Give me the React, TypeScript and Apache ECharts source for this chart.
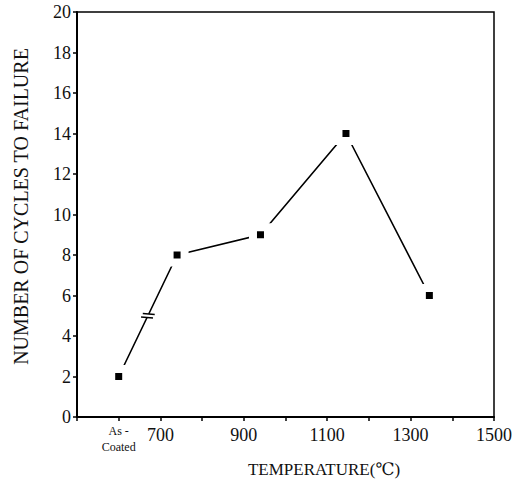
import React, { useEffect, useRef } from "react";
import * as echarts from "echarts";

const temperatures = [600, 740, 940, 1145, 1345];
const cycles = [2, 8, 9, 14, 6];
const labeledTicks = [700, 900, 1100, 1300, 1500];
const asCoatedTick = 600;
const asCoatedLabel = ["As -", "Coated"];
const xName = "TEMPERATURE(\u2103)";
const yName = "NUMBER OF CYCLES TO FAILURE";

const FONT = "'Liberation Serif', 'DejaVu Serif', serif";

export default function App() {
  const ref = useRef<HTMLDivElement>(null);
  useEffect(() => {
    if (!ref.current) return;
    const chart = echarts.init(ref.current, undefined, { renderer: "svg" });
    const points = temperatures.map((t, i) => [t, cycles[i]]);
    const breakSeg = [[temperatures[0], cycles[0], temperatures[1], cycles[1]]];
    chart.setOption({
      animation: false,
      backgroundColor: "#fff",
      grid: {
        left: 77,
        right: 34,
        top: 12,
        bottom: 68,
        show: true,
        borderColor: "#000",
        borderWidth: 1.5,
        backgroundColor: "transparent",
      },
      xAxis: {
        type: "value",
        min: 500,
        max: 1500,
        interval: 100,
        name: xName,
        nameLocation: "middle",
        nameGap: 44,
        nameTextStyle: {
          fontFamily: FONT,
          fontSize: 17,
          color: "#111",
          padding: [0, 0, 0, 77],
        },
        axisLine: { lineStyle: { color: "#000", width: 2 } },
        axisTick: { show: true, length: 4, lineStyle: { color: "#000", width: 1.5 } },
        splitLine: { show: false },
        axisLabel: {
          margin: 6,
          showMinLabel: true,
          showMaxLabel: true,
          formatter: (v: number) => {
            if (v === asCoatedTick) return asCoatedLabel.map((s) => "{a|" + s + "}").join("\n");
            if (labeledTicks.includes(v)) return "{n|" + v + "}";
            return "";
          },
          rich: {
            a: { fontFamily: FONT, fontSize: 12, color: "#111", lineHeight: 16 },
            n: { fontFamily: FONT, fontSize: 18, color: "#111", lineHeight: 24 },
          },
        },
      },
      yAxis: {
        type: "value",
        min: 0,
        max: 20,
        interval: 2,
        name: yName,
        nameLocation: "middle",
        nameGap: 46,
        nameTextStyle: {
          fontFamily: FONT,
          fontSize: 20,
          color: "#111",
          padding: [0, 0, 0, 16],
        },
        axisLine: { show: true, lineStyle: { color: "#000", width: 2 } },
        axisTick: { show: true, length: 4, lineStyle: { color: "#000", width: 1.5 } },
        splitLine: { show: false },
        axisLabel: {
          margin: 6,
          fontFamily: FONT,
          fontSize: 18,
          color: "#111",
        },
      },
      series: [
        {
          type: "line",
          data: points,
          symbol: "rect",
          symbolSize: 15,
          lineStyle: { color: "#000", width: 1.6 },
          itemStyle: { color: "#000", borderColor: "#fff", borderWidth: 8 },
          z: 2,
        },
        {
          type: "custom",
          data: breakSeg,
          z: 5,
          silent: true,
          renderItem: (params: any, api: any) => {
            const p1 = api.coord([api.value(0), api.value(1)]);
            const p2 = api.coord([api.value(2), api.value(3)]);
            const mx = (p1[0] + p2[0]) / 2;
            const my = (p1[1] + p2[1]) / 2;
            const dx = p2[0] - p1[0];
            const dy = p2[1] - p1[1];
            const len = Math.sqrt(dx * dx + dy * dy);
            const ux = dx / len;
            const uy = dy / len;
            const ang = Math.PI / 2.6;
            const vx = ux * Math.cos(ang) - uy * Math.sin(ang);
            const vy = ux * Math.sin(ang) + uy * Math.cos(ang);
            const h = 6;
            const g = 2;
            return {
              type: "group",
              children: [
                {
                  type: "line",
                  shape: { x1: mx - ux * g, y1: my - uy * g, x2: mx + ux * g, y2: my + uy * g },
                  style: { stroke: "#fff", lineWidth: 4 },
                },
                {
                  type: "line",
                  shape: {
                    x1: mx - ux * g - vx * h,
                    y1: my - uy * g - vy * h,
                    x2: mx - ux * g + vx * h,
                    y2: my - uy * g + vy * h,
                  },
                  style: { stroke: "#000", lineWidth: 1.4 },
                },
                {
                  type: "line",
                  shape: {
                    x1: mx + ux * g - vx * h,
                    y1: my + uy * g - vy * h,
                    x2: mx + ux * g + vx * h,
                    y2: my + uy * g + vy * h,
                  },
                  style: { stroke: "#000", lineWidth: 1.4 },
                },
              ],
            };
          },
        },
      ],
    });
    return () => chart.dispose();
  }, []);
  return <div ref={ref} style={{ width: 528, height: 485, position: "absolute", left: 0, top: 0 }} />;
}
